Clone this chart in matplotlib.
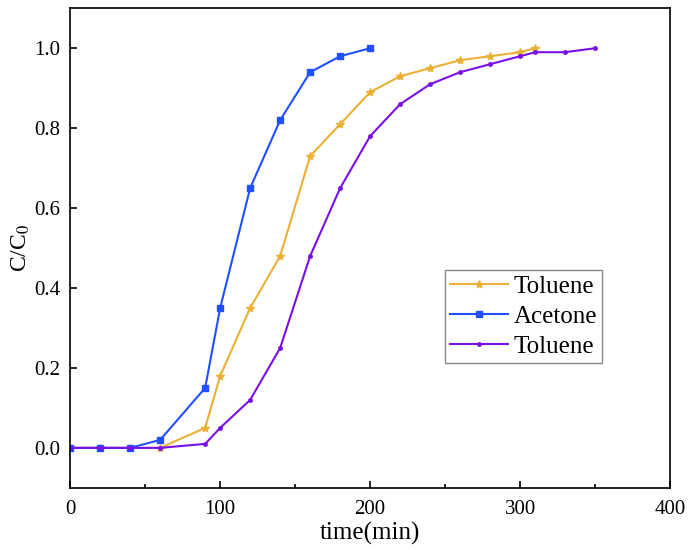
import matplotlib
matplotlib.use("Agg")
import matplotlib.pyplot as plt
from matplotlib.ticker import MultipleLocator

plt.rcParams["font.family"] = ["Liberation Serif", "DejaVu Serif"]
plt.rcParams["mathtext.fontset"] = "stix"

# breakthrough curves
tol1_t = [0, 20, 40, 60, 90, 100, 120, 140, 160, 180, 200, 220, 240, 260, 280, 300, 310]
tol1_c = [0, 0, 0, 0, 0.05, 0.18, 0.35, 0.48, 0.73, 0.81, 0.89, 0.93, 0.95, 0.97, 0.98, 0.99, 1.0]

ace_t = [0, 20, 40, 60, 90, 100, 120, 140, 160, 180, 200]
ace_c = [0, 0, 0, 0.02, 0.15, 0.35, 0.65, 0.82, 0.94, 0.98, 1.0]

tol2_t = [0, 20, 40, 60, 90, 100, 120, 140, 160, 180, 200, 220, 240, 260, 280, 300, 310, 330, 350]
tol2_c = [0, 0, 0, 0, 0.01, 0.05, 0.12, 0.25, 0.48, 0.65, 0.78, 0.86, 0.91, 0.94, 0.96, 0.98, 0.99, 0.99, 1.0]

fig, ax = plt.subplots(figsize=(6.88, 5.5), dpi=100)
fig.subplots_adjust(left=0.102, right=0.974, top=0.985, bottom=0.113)

ax.plot(tol1_t, tol1_c, color="#EBB036", marker="*", markersize=6, lw=1.5, label="Toluene")
ax.plot(ace_t, ace_c, color="#2050FF", marker="s", markersize=5, lw=1.5, label="Acetone")
ax.plot(tol2_t, tol2_c, color="#7A10E8", marker=".", markersize=5, lw=1.5, label="Toluene")

ax.set_xlim(0, 400)
ax.set_ylim(-0.1, 1.1)
ax.xaxis.set_major_locator(MultipleLocator(100))
ax.xaxis.set_minor_locator(MultipleLocator(50))
ax.yaxis.set_major_locator(MultipleLocator(0.2))
ax.yaxis.set_major_formatter(plt.FuncFormatter(lambda v, p: f"{v:.1f}"))
ax.tick_params(which="both", direction="in", labelsize=15, top=False, right=False)
ax.tick_params(which="major", length=5, width=1.2)
ax.tick_params(which="minor", length=3, width=1.2)
ax.tick_params(axis="x", which="major", pad=9)
ax.tick_params(axis="y", which="major", pad=7)
for s in ax.spines.values():
    s.set_linewidth(1.2)

ax.set_xlabel("time(min)", fontsize=18, labelpad=2)
ax.set_ylabel("C/C$_0$", fontsize=17, labelpad=2)

ax.legend(loc="upper left", bbox_to_anchor=(0.625, 0.454), fontsize=18,
          fancybox=False, edgecolor="#888888", framealpha=1,
          handlelength=2.3, handletextpad=0.25, borderpad=0.2,
          labelspacing=0.3, borderaxespad=0)

fig.savefig("out.png")
